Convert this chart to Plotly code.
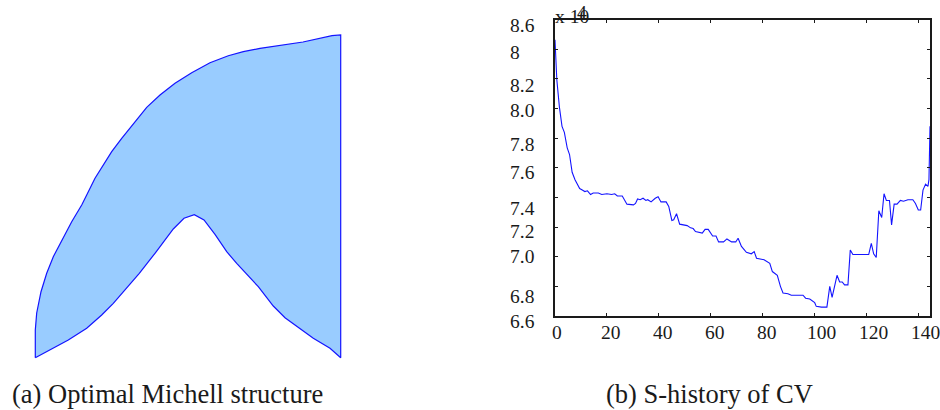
import plotly.graph_objects as go

W, H = 940, 410

# (a) Michell structure outline, in drawing units
michell_x = [35.3, 52, 68.3, 86.7, 101.7, 113.3, 126.7, 139.3, 155, 173.3, 184, 194.3, 204, 215, 226.7, 236.7, 258.3, 273.3, 285, 313.3, 330, 340.7,
             340.7, 332, 303, 260, 243.3, 228.3, 210, 191.7, 175, 160, 146.7, 133.3, 121.7, 111.7, 103.3, 95, 86.7, 81.7, 71.7, 61.7, 53.3, 46.7, 41, 36.7, 35.3, 35.3]
michell_y = [357.7, 349, 340, 328.3, 315, 303.3, 288.3, 273.3, 253.3, 229, 218.3, 214.7, 220, 234.3, 251.7, 263.3, 286.7, 306, 317.7, 338.3, 348.3, 357.7,
             35, 35.7, 42, 48.3, 51.7, 55.7, 62.7, 72.7, 83.3, 95, 107.3, 123.3, 138.3, 151.7, 165, 178.3, 195, 205, 221.7, 240, 256.7, 273.3, 291.7, 313, 330, 357.7]

# (b) S-history of CV
cv_x = [0, 0.7, 1.7, 2.7, 3.6, 4.7, 5.6, 6.6, 7.7, 9.5, 10.5, 11.5, 12.5, 13.7, 14.7, 16.7, 18, 20, 21.8, 23,
        24, 25.9, 27.7, 30.2, 31, 31.8, 32.8, 33.9, 35, 35.7, 37, 38.6, 39.7, 40.8, 42.8, 43.8, 45, 45.7, 46.8, 48,
        50.9, 52.2, 53.2, 54.1, 56.7, 57.8, 59, 60.7, 62, 63, 64.9, 66.2, 68, 69.6, 70.5, 71.8, 73.7, 75.6, 76.7, 77.6,
        80.5, 82.7, 83.7, 85.6, 86.8, 87.8, 89.7, 91, 95.5, 96.5, 98.1, 100, 100.6, 102.6, 104.7, 105.8, 106.7, 108.6, 109.6, 110.6,
        111.5, 112.8, 113.7, 114.7, 120.8, 121.8, 122.7, 123.7, 124.7, 125.8, 126.7, 127.6, 128.8, 129.6, 130.6, 131.7, 133, 134.2, 135.9, 137.8,
        138.8, 139.9, 140.8, 141.7, 142.7, 143.6, 144, 144.4]
cv_y = [8.465, 8.195, 8.01, 7.88, 7.84, 7.735, 7.69, 7.57, 7.52, 7.46, 7.45, 7.44, 7.445, 7.42, 7.43, 7.43, 7.42, 7.425, 7.42, 7.425,
        7.41, 7.41, 7.355, 7.35, 7.36, 7.39, 7.385, 7.395, 7.38, 7.385, 7.37, 7.395, 7.405, 7.37, 7.37, 7.34, 7.245, 7.25, 7.29, 7.22,
        7.21, 7.195, 7.19, 7.17, 7.16, 7.185, 7.185, 7.14, 7.14, 7.1, 7.1, 7.12, 7.1, 7.1, 7.125, 7.07, 7.03, 7.02, 7.035, 6.99,
        6.98, 6.955, 6.9, 6.875, 6.8, 6.755, 6.75, 6.74, 6.74, 6.72, 6.715, 6.69, 6.665, 6.66, 6.66, 6.8, 6.725, 6.875, 6.83, 6.83,
        6.81, 6.81, 7.045, 7.015, 7.015, 7.09, 7.02, 6.995, 7.31, 7.265, 7.425, 7.38, 7.38, 7.215, 7.355, 7.355, 7.38, 7.375, 7.385, 7.385,
        7.36, 7.315, 7.315, 7.45, 7.49, 7.475, 7.52, 7.88]

x_ticks = [0, 20, 40, 60, 80, 100, 120, 140]
y_ticks = [6.6, 6.8, 7.0, 7.2, 7.4, 7.6, 7.8, 8.0, 8.2, 8.4, 8.6]
# the labels as printed in the picture (they do not all match their tick)
y_labels = ["6.6", "6.8", "7.0", "7.2", "7.4", "7.6", "7.8", "8.0", "8.2", "8", "8.6"]
y_label_px = [321, 296, 256, 232, 208, 173, 144, 110, 85.7, 52.7, 25.7]
x_label_shift = [2, 4, 4, 4, 4, 7, 7, 7]

SERIF = "Liberation Serif"
INK = "#1a1a1a"
BLUE = "#1414ff"

fig = go.Figure()
fig.add_trace(go.Scatter(x=michell_x, y=michell_y, mode="lines", fill="toself",
                         fillcolor="#99ccff", line=dict(color=BLUE, width=1.2),
                         xaxis="x", yaxis="y", hoverinfo="skip", showlegend=False))
fig.add_trace(go.Scatter(x=cv_x, y=cv_y, mode="lines", line=dict(color=BLUE, width=1.1),
                         xaxis="x2", yaxis="y2", cliponaxis=False, showlegend=False))

ann = []
for v, dx in zip(x_ticks, x_label_shift):
    ann.append(dict(x=v, y=0, xref="x2", yref="paper", yanchor="middle", xanchor="center",
                    text=str(v), showarrow=False, xshift=dx, yshift=H - 332.5,
                    font=dict(family=SERIF, size=19.5, color=INK)))
for t, py in zip(y_labels, y_label_px):
    ann.append(dict(x=510 / W, y=1 - py / H, xref="paper", yref="paper", xanchor="left",
                    yanchor="middle", text=t, showarrow=False, xshift=-2,
                    font=dict(family=SERIF, size=19.5, color=INK)))
ann.append(dict(x=555 / W, y=1 - 16 / H, xref="paper", yref="paper", xanchor="left", yanchor="middle",
                text="x 10", showarrow=False, xshift=-2, font=dict(family=SERIF, size=19.5, color=INK)))
ann.append(dict(x=582 / W, y=1 - 12 / H, xref="paper", yref="paper", xanchor="center", yanchor="middle",
                text="4", showarrow=False, font=dict(family=SERIF, size=19.5, color=INK)))
ann.append(dict(x=12 / W, y=1 - 394 / H, xref="paper", yref="paper", xanchor="left", yanchor="middle",
                text="(a) Optimal Michell structure", showarrow=False, xshift=-2,
                font=dict(family=SERIF, size=26.5, color=INK)))
ann.append(dict(x=606 / W, y=1 - 394 / H, xref="paper", yref="paper", xanchor="left", yanchor="middle",
                text="(b) S-history of CV", showarrow=False, xshift=-2,
                font=dict(family=SERIF, size=26.5, color=INK)))

fig.update_layout(
    width=W, height=H, margin=dict(l=0, r=0, t=0, b=0), autosize=False,
    paper_bgcolor="white", plot_bgcolor="rgba(0,0,0,0)", annotations=ann,
    xaxis=dict(domain=[0, 1], range=[0, W], visible=False, fixedrange=True),
    yaxis=dict(domain=[0, 1], range=[H, 0], visible=False, fixedrange=True),
    xaxis2=dict(domain=[555 / W, 930 / W], range=[0, 144.4], anchor="y2",
                tickvals=x_ticks, showticklabels=False, ticks="inside", ticklen=3, tickwidth=1,
                tickcolor=INK, showgrid=False, zeroline=False, showline=True, linecolor=INK,
                linewidth=1.6, mirror="allticks"),
    yaxis2=dict(domain=[1 - 316 / H, 1 - 19.7 / H], range=[6.6, 8.6], anchor="x2",
                tickvals=y_ticks, showticklabels=False, ticks="inside", ticklen=3, tickwidth=1,
                tickcolor=INK, showgrid=False, zeroline=False, showline=True, linecolor=INK,
                linewidth=1.6, mirror="allticks"),
)
fig.write_html("out.html", config={"displayModeBar": False},
               post_script="document.body.style.margin='0';document.body.style.overflow='hidden';")
